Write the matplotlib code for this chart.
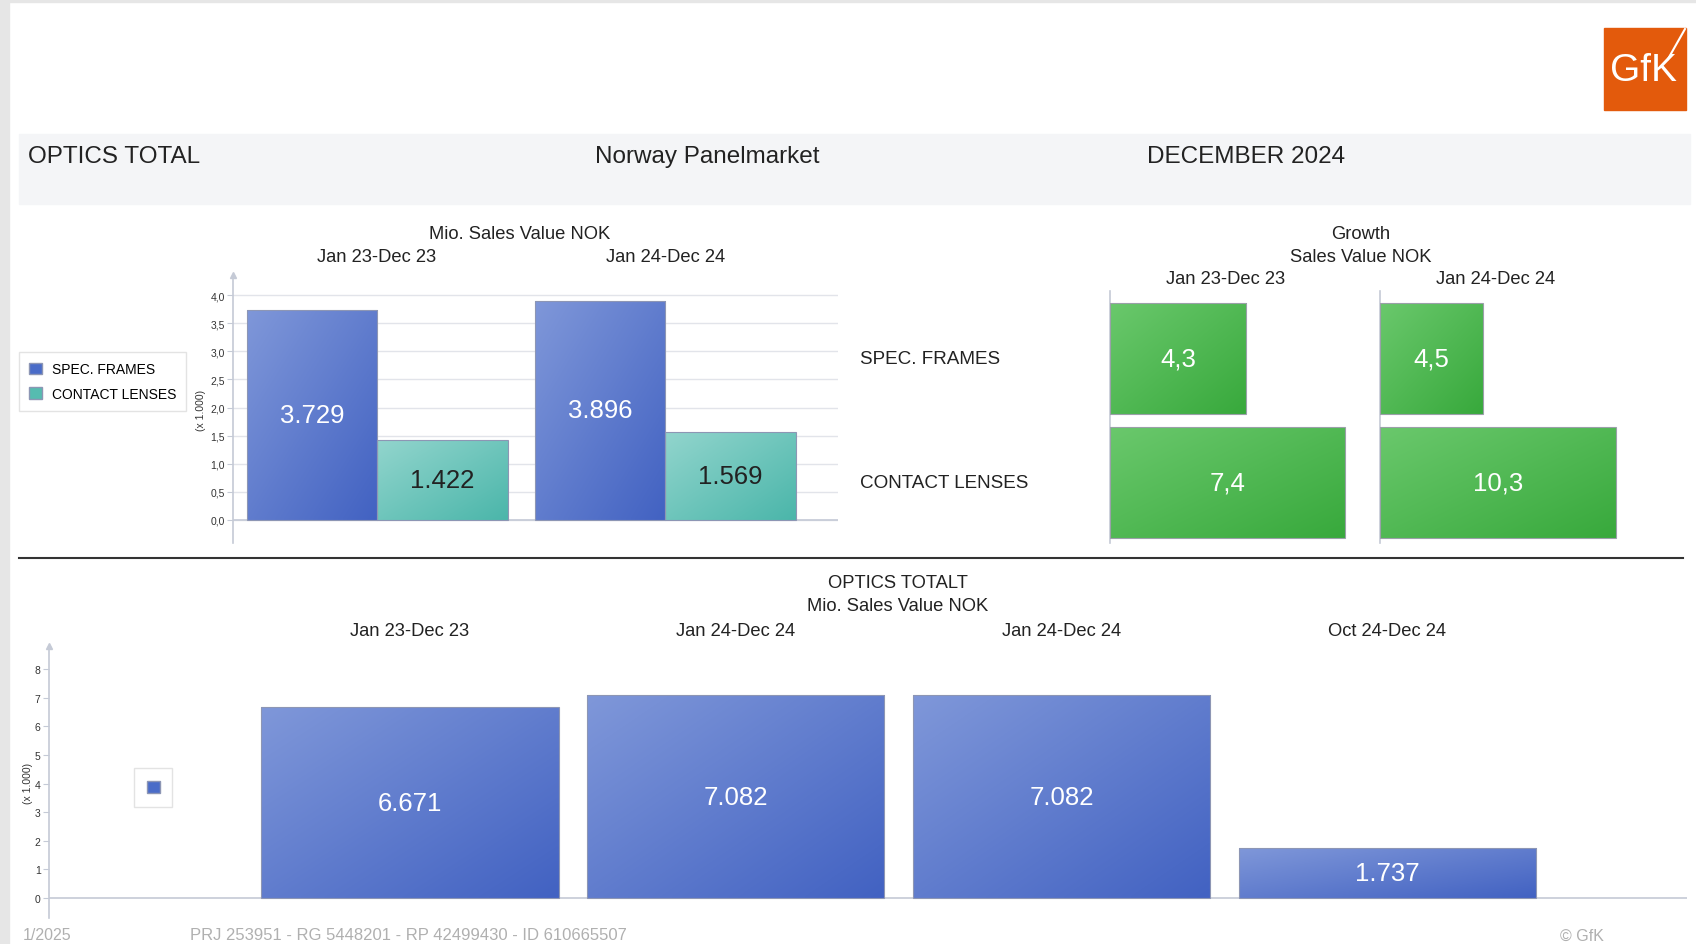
import numpy as np
import matplotlib
matplotlib.use('Agg')
import matplotlib.pyplot as plt
import matplotlib.transforms as mtransforms
from matplotlib.patches import Rectangle, Patch
from matplotlib.lines import Line2D
from matplotlib.colors import LinearSegmentedColormap

plt.rcParams['font.family'] = ['Liberation Sans', 'DejaVu Sans']

# ---------------- data ----------------
periods_top = ['Jan 23-Dec 23', 'Jan 24-Dec 24']
spec_frames = [3729, 3896]
contact_lenses = [1422, 1569]

growth_rows = ['SPEC. FRAMES', 'CONTACT LENSES']
growth_2023 = [4.3, 7.4]
growth_2024 = [4.5, 10.3]

periods_bottom = ['Jan 23-Dec 23', 'Jan 24-Dec 24', 'Jan 24-Dec 24', 'Oct 24-Dec 24']
optics_total = [6671, 7082, 7082, 1737]

W, H = 1696, 945
BLUE = ('#7f97d9', '#4262c2')
TEAL = ('#92d5cd', '#4bb6aa')
GREEN = ('#6ac86c', '#38a93c')
AXC = '#c5cad6'
TXT = '#222222'
FS = 13.2  # column headers


def rect(x0, y0, x1, y1):
    return [x0 / W, 1 - y1 / H, (x1 - x0) / W, (y1 - y0) / H]


def ftext(x, y, s, **kw):
    kw.setdefault('color', TXT)
    fig.text(x / W, 1 - y / H, s, **kw)


def nok(v):
    return f'{v:,}'.replace(',', '.')


def comma(v, d=1):
    return f'{v:.{d}f}'.replace('.', ',')


def gradient_fill(ax, bars, colors, inverted=False):
    cmap = LinearSegmentedColormap.from_list('grad', colors)
    gx, gy = np.meshgrid(np.linspace(0, 1, 64), np.linspace(0, 1, 64))
    z = (gx + gy) / 2
    for b in bars:
        x0, y0, w, h = b.get_x(), b.get_y(), b.get_width(), b.get_height()
        ext = [x0, x0 + w, y0 + h, y0] if inverted else [x0, x0 + w, y0, y0 + h]
        im = ax.imshow(z, extent=ext, origin='upper', cmap=cmap, aspect='auto',
                       interpolation='bilinear', zorder=2)
        im.set_clip_path(b)
        b.set_facecolor('none')


def plain_axis(ax):
    for s in ['top', 'right', 'bottom']:
        ax.spines[s].set_visible(False)
    ax.spines['left'].set_color(AXC)
    ax.spines['left'].set_linewidth(1.2)
    ax.set_facecolor('none')


fig = plt.figure(figsize=(W / 100, H / 100), dpi=100)

# frame + header band
fig.patches.append(Rectangle((0, 0), 9 / W, 1, transform=fig.transFigure, color='#e6e6e6', zorder=0))
fig.patches.append(Rectangle((0, 1 - 3 / H), 1, 3 / H, transform=fig.transFigure, color='#e6e6e6', zorder=0))
fig.patches.append(Rectangle((19 / W, 1 - 205 / H), (1690 - 19) / W, 70 / H,
                             transform=fig.transFigure, color='#f4f5f7', zorder=0))
ftext(28, 157, 'OPTICS TOTAL', fontsize=17.5, va='center')
ftext(707, 157, 'Norway Panelmarket', fontsize=17.5, va='center', ha='center')
ftext(1246, 157, 'DECEMBER 2024', fontsize=17.5, va='center', ha='center')

# logo
fig.patches.append(Rectangle((1604 / W, 1 - 111 / H), 82 / W, 82 / H,
                             transform=fig.transFigure, color='#e35a0c', zorder=1))
ftext(1644, 71, 'GfK', fontsize=28, color='white', ha='center', va='center')
fig.add_artist(Line2D([1668 / W, 1685 / W], [1 - 60 / H, 1 - 30 / H], color='white', lw=1.5))

# ---------------- top bar chart ----------------
ax1 = fig.add_axes(rect(233, 276, 838, 544))
plain_axis(ax1)
x = np.arange(len(periods_top))
w = 0.453
sf = np.array(spec_frames) / 1000
cl = np.array(contact_lenses) / 1000
b1 = ax1.bar(x - w / 2, sf, w, edgecolor='#8d96b4', lw=0.8, zorder=3)
b2 = ax1.bar(x + w / 2, cl, w, edgecolor='#8d96b4', lw=0.8, zorder=3)
gradient_fill(ax1, b1, BLUE)
gradient_fill(ax1, b2, TEAL)
for xi, v in zip(x - w / 2, spec_frames):
    ax1.text(xi, v / 2000, nok(v), ha='center', va='center', color='white', fontsize=18.5, zorder=4)
for xi, v in zip(x + w / 2, contact_lenses):
    ax1.text(xi, v / 2000, nok(v), ha='center', va='center', color=TXT, fontsize=18.5, zorder=4)
yt = np.arange(0, 4.01, 0.5)
ax1.set_yticks(yt)
ax1.set_yticklabels([comma(v) for v in yt])
ax1.tick_params(axis='y', length=4, color=AXC, labelsize=7.5, labelcolor='#333', pad=2)
ax1.set_xticks([])
ax1.yaxis.grid(True, color='#e2e4ea', lw=1)
ax1.set_axisbelow(True)
ax1.axhline(0, color=AXC, lw=1.2, zorder=1)
ax1.plot([0], [1], marker='^', ms=5, color=AXC, transform=ax1.transAxes, clip_on=False)
ax1.set_ylabel('(x 1.000)', fontsize=7.5, color='#333')
ax1.yaxis.set_label_coords(-(233 - 206) / 605, 0.5)
ax1.set_xlim(-0.5, 1.6)
ax1.set_ylim(-0.409, 4.356)

ftext(520, 235, 'Mio. Sales Value NOK', fontsize=FS, ha='center', va='center')
tr1 = mtransforms.blended_transform_factory(ax1.transData, fig.transFigure)
for xi, p in zip(x, periods_top):
    ax1.text(xi, 1 - 258 / H, p, transform=tr1, fontsize=FS, ha='center', va='center', color=TXT)

ax1.legend(handles=[Patch(facecolor='#4a6cc8', edgecolor='#8d96b4'),
                    Patch(facecolor='#56bcb0', edgecolor='#8d96b4')],
           labels=growth_rows, loc='upper left', bbox_to_anchor=(19 / W, 1 - 353 / H),
           bbox_transform=fig.transFigure, borderaxespad=0, fancybox=False,
           edgecolor='#dcdcdc', fontsize=10, handlelength=0.9, handleheight=0.9,
           handletextpad=0.7, borderpad=0.75, labelspacing=0.75)

# ---------------- growth panels ----------------
panels = [(growth_2023, rect(1110, 292, 1360, 544), 7.88),
          (growth_2024, rect(1380, 292, 1640, 544), 11.36)]
yg = np.arange(len(growth_rows))
for vals, pos, xmax in panels:
    axg = fig.add_axes(pos)
    plain_axis(axg)
    bg = axg.barh(yg, vals, 0.895, edgecolor='#9aa0a8', lw=0.8, zorder=3)
    gradient_fill(axg, bg, GREEN, inverted=True)
    for yi, v in zip(yg, vals):
        axg.text(v / 2, yi, comma(v), ha='center', va='center', color='white', fontsize=18.5, zorder=4)
    axg.set_xticks([])
    axg.set_yticks([])
    axg.set_xlim(0, xmax)
    axg.set_ylim(1.488, -0.544)

trg = mtransforms.blended_transform_factory(fig.transFigure, axg.transData)
for yi, lab in zip(yg, growth_rows):
    axg.text(860 / W, yi, lab, transform=trg, fontsize=13.6, ha='left', va='center', color=TXT)
ftext(1361, 235, 'Growth', fontsize=FS, ha='center', va='center')
ftext(1361, 258, 'Sales Value NOK', fontsize=FS, ha='center', va='center')
ftext(1226, 280, periods_top[0], fontsize=FS, ha='center', va='center')
ftext(1496, 280, periods_top[1], fontsize=FS, ha='center', va='center')

# separator
fig.add_artist(Line2D([19 / W, 1683 / W], [1 - 559 / H] * 2, color='#333333', lw=1.5))

# ---------------- bottom bar chart ----------------
ax2 = fig.add_axes(rect(49, 647, 1687, 919))
plain_axis(ax2)
xb = np.arange(len(optics_total))
ot = np.array(optics_total) / 1000
b3 = ax2.bar(xb, ot, 0.912, edgecolor='#8d96b4', lw=0.8, zorder=3)
gradient_fill(ax2, b3, BLUE)
for xi, v in zip(xb, optics_total):
    ax2.text(xi, v / 2000, nok(v), ha='center', va='center', color='white', fontsize=18.5, zorder=4)
ax2.set_yticks(np.arange(0, 9))
ax2.tick_params(axis='y', length=4, color=AXC, labelsize=7.5, labelcolor='#333', pad=2)
ax2.set_xticks([])
ax2.axhline(0, color=AXC, lw=1.2, zorder=1)
ax2.plot([0], [1], marker='^', ms=5, color=AXC, transform=ax2.transAxes, clip_on=False)
ax2.set_ylabel('(x 1.000)', fontsize=7.5, color='#333')
ax2.yaxis.set_label_coords(-(49 - 33) / 1638, 0.5)
ax2.set_xlim(-1.108, 3.92)
ax2.set_ylim(-0.7, 8.81)

ftext(898, 584, 'OPTICS TOTALT', fontsize=FS, ha='center', va='center')
ftext(898, 607, 'Mio. Sales Value NOK', fontsize=FS, ha='center', va='center')
tr2 = mtransforms.blended_transform_factory(ax2.transData, fig.transFigure)
for xi, p in zip(xb, periods_bottom):
    ax2.text(xi, 1 - 631 / H, p, transform=tr2, fontsize=FS, ha='center', va='center', color=TXT)

ax2.legend(handles=[Patch(facecolor='#4a6cc8', edgecolor='#8d96b4')], labels=[''],
           loc='upper left', bbox_to_anchor=(134 / W, 1 - 769 / H),
           bbox_transform=fig.transFigure, borderaxespad=0, fancybox=False,
           edgecolor='#dcdcdc', fontsize=10, handlelength=0.95, handleheight=0.95,
           handletextpad=0, borderpad=0.9)

# footer
ftext(23, 936, '1/2025', fontsize=11.5, color='#b0b0b0', va='center')
ftext(190, 936, 'PRJ 253951 - RG 5448201 - RP 42499430 - ID 610665507', fontsize=12,
      color='#b0b0b0', va='center')
ftext(1560, 936, '© GfK', fontsize=11.5, color='#b0b0b0', va='center')

fig.savefig('out.png', dpi=100)
